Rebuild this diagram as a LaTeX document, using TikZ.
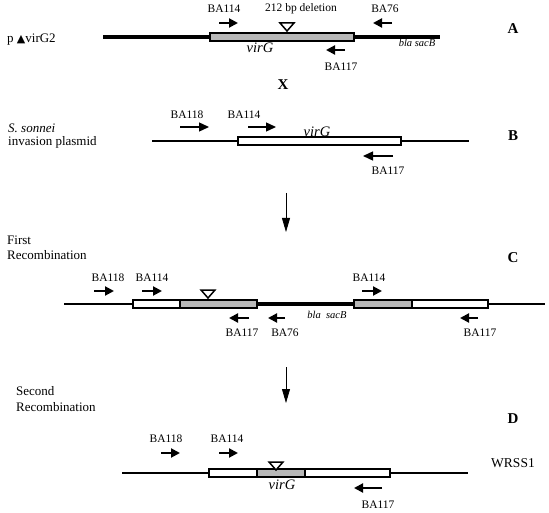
\documentclass[tikz,border=0pt]{standalone}
\usepackage{fontspec}
\setmainfont{Liberation Serif}
\newfontfamily\symfont{DejaVu Sans}
\usetikzlibrary{arrows.meta}
\tikzset{
  plasmid/.style={line width=1.5pt},
  vector/.style={line width=4pt},
  openbox/.style={draw,line width=1.4pt,fill=white},
  virbox/.style={draw,line width=1.4pt,fill=black!28},
  primer/.style={line width=2pt,-{Triangle[length=9pt,width=9pt]}},
  longprimer/.style={line width=1.3pt,-{Triangle[length=10pt,width=9pt]}},
  recarrow/.style={line width=0.8pt,-{Triangle[length=14pt,width=8pt]}},
  deletion/.style={draw,line width=1.5pt,fill=white},
  lbl/.style={font=\fontsize{11.5}{13}\selectfont,inner sep=0pt},
  side/.style={font=\fontsize{13}{15.5}\selectfont,align=left,anchor=west,inner sep=0pt},
  panel/.style={font=\fontsize{15}{17}\selectfont\bfseries,inner sep=0pt},
  gene/.style={font=\fontsize{14.5}{16}\selectfont\itshape,inner sep=0pt},
  marker/.style={font=\fontsize{10.5}{12}\selectfont\itshape,inner sep=0pt}
}
\newcommand{\deltri}[2]{\draw[deletion] (#1-7,#2) -- (#1+7,#2) -- (#1,#2+8) -- cycle;}
\begin{document}
\begin{tikzpicture}[x=1pt,y=-1pt]
  \useasboundingbox (0,0) rectangle (549,513);

  % A: deletion plasmid
  \node[side] (pname) at (7,40) {p {\symfont\fontsize{11}{12}\selectfont ▲}virG2};
  \draw[vector] (103,37) -- (440,37);
  \draw[virbox] (210,33) rectangle (354,41);
  \deltri{287}{23}
  \node[lbl] (delA) at (301,9) {212 bp deletion};
  \node[lbl] (p114A) at (224,9) {BA114};
  \node[lbl] (p76A) at (385,9) {BA76};
  \node[lbl] (p117A) at (341,67) {BA117};
  \draw[primer] (219,23) -- (238,23);
  \draw[primer] (392,23) -- (373,23);
  \draw[primer] (345,50) -- (326,50);
  \node[gene] (virA) at (260,48) {virG};
  \node[marker] (blaA) at (417,43) {bla sacB};
  \node[panel] (A) at (513,29) {A};
  \node[panel] (X) at (283,85) {X};

  % B: invasion plasmid
  \node[side] (pB) at (8,136) {{\itshape S. sonnei}\\[-2pt]invasion plasmid};
  \draw[plasmid] (152,141) -- (469,141);
  \draw[openbox] (238,137) rectangle (401,145);
  \node[gene] (virB) at (317,132) {virG};
  \node[lbl] (p118B) at (187,115) {BA118};
  \node[lbl] (p114B) at (244,115) {BA114};
  \node[lbl] (p117B) at (388,171) {BA117};
  \draw[longprimer] (180,127) -- (209,127);
  \draw[longprimer] (248,127) -- (276,127);
  \draw[longprimer] (393,156) -- (363,156);
  \node[panel] (B) at (513,136) {B};

  \draw[recarrow] (286,193) -- (286,232);

  % C: first recombination
  \node[side] (pC) at (7,248) {First\\Recombination};
  \node[panel] (C) at (513,258) {C};
  \draw[plasmid] (64,304) -- (133,304);
  \draw[plasmid] (488,304) -- (545,304);
  \draw[vector] (257,304) -- (354,304);
  \draw[openbox] (133,300) rectangle (180,308);
  \draw[virbox] (180,300) rectangle (257,308);
  \draw[virbox] (354,300) rectangle (412,308);
  \draw[openbox] (412,300) rectangle (488,308);
  \deltri{208}{290}
  \node[lbl] (p118C) at (108,278) {BA118};
  \node[lbl] (p114C) at (152,278) {BA114};
  \node[lbl] (p114Cr) at (369,278) {BA114};
  \draw[primer] (94,291) -- (114,291);
  \draw[primer] (142,291) -- (162,291);
  \draw[primer] (362,291) -- (382,291);
  \node[marker] (blaC) at (327,315) {bla\ \ sacB};
  \draw[primer] (249,318) -- (229,318);
  \draw[primer] (285,318) -- (268,318);
  \draw[primer] (478,318) -- (460,318);
  \node[lbl] (p117C) at (242,333) {BA117};
  \node[lbl] (p76C) at (285,333) {BA76};
  \node[lbl] (p117Cr) at (480,333) {BA117};

  \draw[recarrow] (286,367) -- (286,403);

  % D: second recombination, WRSS1
  \node[side] (pD) at (16,399) {Second\\Recombination};
  \node[panel] (D) at (513,419) {D};
  \node[font=\fontsize{13.5}{15}\selectfont,inner sep=0pt] (wrss) at (513,463) {WRSS1};
  \draw[plasmid] (122,473) -- (468,473);
  \draw[openbox] (209,469) rectangle (257,477);
  \draw[virbox] (257,469) rectangle (305,477);
  \draw[line width=2.5pt] (257,469) -- (257,477) (305,469) -- (305,477);
  \draw[openbox] (305,469) rectangle (390,477);
  \deltri{276}{462}
  \node[gene] (virD) at (282,485) {virG};
  \node[lbl] (p118D) at (166,439) {BA118};
  \node[lbl] (p114D) at (227,439) {BA114};
  \draw[primer] (161,453) -- (180,453);
  \draw[primer] (219,453) -- (238,453);
  \draw[primer] (382,488) -- (354,488);
  \node[lbl] (p117D) at (378,505) {BA117};
\end{tikzpicture}
\end{document}
